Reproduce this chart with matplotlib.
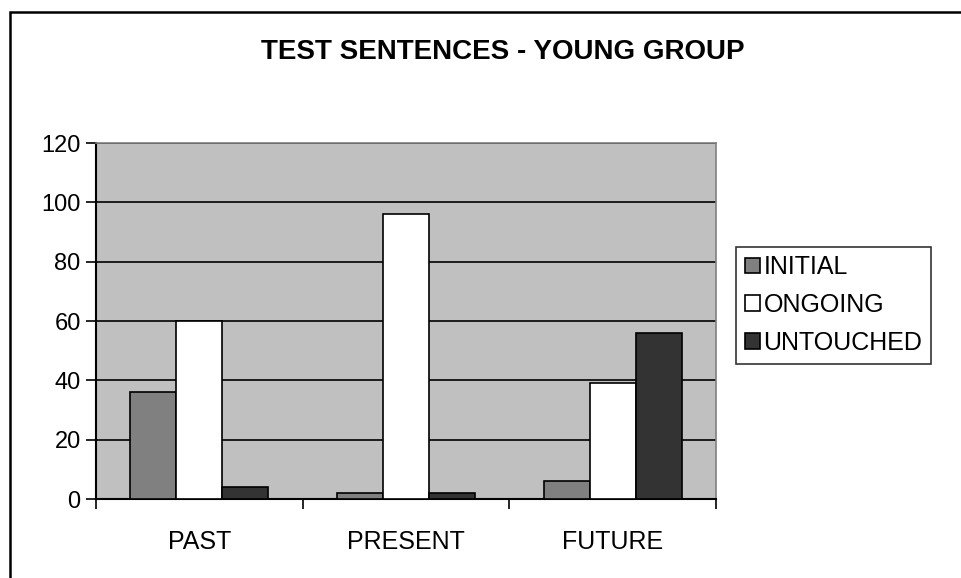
import numpy as np
import matplotlib.pyplot as plt
from matplotlib.patches import Rectangle

# Chart data
categories = ["PAST", "PRESENT", "FUTURE"]
series_names = ["INITIAL", "ONGOING", "UNTOUCHED"]
initial = [36, 2, 6]
ongoing = [60, 96, 39]
untouched = [4, 2, 56]
y_ticks = [0, 20, 40, 60, 80, 100, 120]

plt.rcParams['font.family'] = ['Liberation Sans', 'DejaVu Sans']

fig = plt.figure(figsize=(9.62, 5.78), dpi=100)
fig.patch.set_facecolor("white")

# outer chart border (cut off at right and bottom)
fig.patches.append(Rectangle((10 / 962, -0.05), 1.2, 1 - 12 / 578 + 0.05,
                             transform=fig.transFigure, fill=False,
                             edgecolor="black", linewidth=1.8))

ax = fig.add_axes([96 / 962, 1 - 499 / 578, 620 / 962, 356 / 578])
ax.set_facecolor("#C0C0C0")

centers = np.arange(len(categories)) + 0.5
bw = 1 / 4.5
colors = ["#808080", "#FFFFFF", "#333333"]
for i, (vals, name) in enumerate(zip([initial, ongoing, untouched], series_names)):
    ax.bar(centers + (i - 1) * bw, vals, width=bw, color=colors[i],
           edgecolor="black", linewidth=1.2, label=name, zorder=3)

ax.set_xlim(0, len(categories))
ax.set_ylim(0, 120)
ax.set_yticks(y_ticks)
ax.yaxis.grid(True, color="black", linewidth=1.2, zorder=1)
ax.set_axisbelow(True)
ax.tick_params(axis="y", labelsize=17, length=7, width=1.2, direction="out", pad=4)

ax.set_xticks(range(len(categories) + 1))
ax.set_xticklabels([])
ax.set_xticks(centers, minor=True)
ax.set_xticklabels(categories, minor=True)
ax.tick_params(axis="x", which="major", length=7, width=1.2, direction="out")
ax.tick_params(axis="x", which="minor", length=0, labelsize=18, pad=22)

for s in ["left", "bottom"]:
    ax.spines[s].set_color("black")
    ax.spines[s].set_linewidth(1.5)
for s in ["top", "right"]:
    ax.spines[s].set_color("#808080")
    ax.spines[s].set_linewidth(1.2)

fig.text(503 / 962, 1 - 52 / 578, "TEST SENTENCES - YOUNG GROUP", ha="center",
         va="center", fontsize=20, fontweight="bold")

leg = ax.legend(loc="center left", bbox_to_anchor=(736 / 962, 1 - 305 / 578),
                bbox_transform=fig.transFigure, fontsize=18, frameon=True,
                fancybox=False, edgecolor="black", handlelength=0.6,
                handleheight=0.6, handletextpad=0.15, borderpad=0.35,
                labelspacing=0.55, borderaxespad=0)
leg.get_frame().set_linewidth(1.2)

fig.savefig("out.png", dpi=100)
